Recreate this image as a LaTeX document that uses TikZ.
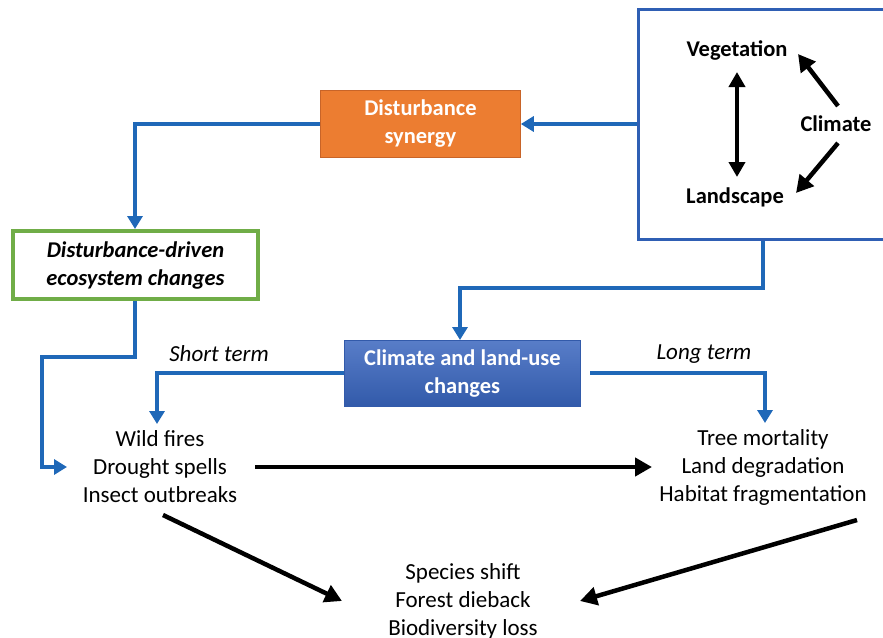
\documentclass[tikz,border=0pt]{standalone}
\usepackage{fontspec}
\setmainfont{Carlito}
\usetikzlibrary{arrows.meta,positioning,calc}
\definecolor{lineblue}{RGB}{31,104,184}
\definecolor{frameblue}{RGB}{47,95,180}
\definecolor{orfill}{RGB}{236,125,49}
\definecolor{ordraw}{RGB}{200,100,40}
\definecolor{grborder}{RGB}{112,173,71}
\definecolor{bltop}{RGB}{88,125,200}
\definecolor{blbot}{RGB}{50,90,170}
\tikzset{
  txt/.style={font=\fontsize{23}{28}\selectfont, align=center, inner sep=0pt},
  btxt/.style={font=\fontsize{22.5}{28}\selectfont\bfseries, align=center, inner sep=0pt},
  blueline/.style={draw=lineblue, line width=3.5pt},
  bluearrow/.style={blueline, -{Triangle[width=15pt,length=13pt]}},
  blackarrow/.style={draw=black, line width=4.5pt, -{Triangle[width=18pt,length=17pt]}},
  blackdbl/.style={draw=black, line width=4.5pt, {Triangle[width=16pt,length=15pt]}-{Triangle[width=16pt,length=15pt]}},
}
\begin{document}
\begin{tikzpicture}[x=1pt,y=-1pt]
\useasboundingbox (0,0) rectangle (883,637);
% frame box
\node[draw=frameblue, line width=2.5pt, minimum width=252pt, minimum height=230pt, anchor=north west, inner sep=0pt] (frame) at (637,8) {};
\node[btxt] (veg) at (737,50) {Vegetation};
\node[btxt] (clim) at (836,124) {Climate};
\node[btxt] (land) at (735,197) {Landscape};
\coordinate (vtop) at (737,72);
\coordinate (vbot) at (737,177);
\draw[blackdbl] (vtop) -- (vbot);
\coordinate (c1) at (838,106);
\coordinate (c1e) at (798,54);
\coordinate (c2) at (838,143);
\coordinate (c2e) at (796,193);
\draw[blackarrow] (c1) -- (c1e);
\draw[blackarrow] (c2) -- (c2e);
% orange box
\node[draw=ordraw, fill=orfill, line width=0.8pt, minimum width=200pt, minimum height=67pt, anchor=north west, inner sep=0pt] (dist) at (320,90) {};
\node[btxt, text=white] (disttxt) at (dist.center) {Disturbance\\synergy};
% green box
\node[draw=grborder, line width=4pt, minimum width=245pt, minimum height=68pt, anchor=north west, inner sep=0pt] (eco) at (11,229) {};
\node[btxt, font=\fontsize{22.5}{28}\selectfont\bfseries\itshape] (ecotxt) at (eco.center) {Disturbance-driven\\ecosystem changes};
% blue box
\node[draw=blbot, top color=bltop, bottom color=blbot, line width=0.8pt, minimum width=236pt, minimum height=66pt, anchor=north west, inner sep=0pt] (clu) at (344,340) {};
\node[btxt, text=white] (clutxt) at (clu.center) {Climate and land-use\\changes};
% text groups
\node[txt] (left) at (160,467) {Wild fires\\Drought spells\\Insect outbreaks};
\node[txt] (right) at (763,467) {Tree mortality\\Land degradation\\Habitat fragmentation};
\node[txt] (bottom) at (463,601) {Species shift\\Forest dieback\\Biodiversity loss};
\node[txt, font=\fontsize{23}{28}\selectfont\itshape] (short) at (219,354) {Short term};
\node[txt, font=\fontsize{23}{28}\selectfont\itshape] (long) at (704,354) {Long term};
% blue connectors
\draw[bluearrow] (frame.west |- 0,124) -- (dist.east |- 0,124);
\draw[bluearrow] (dist.west) -| (eco.north -| 135,0);
\coordinate (e1) at (135,357);
\coordinate (e2) at (42,357);
\coordinate (e3) at (67,467);
\draw[bluearrow] (eco.south -| 135,0) -- (e1) -- (e2) |- (e3);
\coordinate (f1) at (763,288);
\coordinate (f2) at (460,288);
\draw[bluearrow] (frame.south -| 763,0) -- (f1) -- (f2) -- (clu.north -| 460,0);
\coordinate (s1) at (157,373);
\coordinate (s2) at (157,424);
\draw[bluearrow] (clu.west |- 0,373) -- (s1) -- (s2);
\coordinate (l0) at (590,373);
\coordinate (l1) at (765,373);
\coordinate (l2) at (765,423);
\draw[bluearrow] (l0) -- (l1) -- (l2);
% black arrows
\coordinate (a1) at (255,467);
\coordinate (a2) at (652,467);
\draw[blackarrow] (a1) -- (a2);
\coordinate (b1) at (163,515);
\coordinate (b2) at (342,601);
\draw[blackarrow] (b1) -- (b2);
\coordinate (d1) at (857,520);
\coordinate (d2) at (580,601);
\draw[blackarrow] (d1) -- (d2);
\end{tikzpicture}
\end{document}
